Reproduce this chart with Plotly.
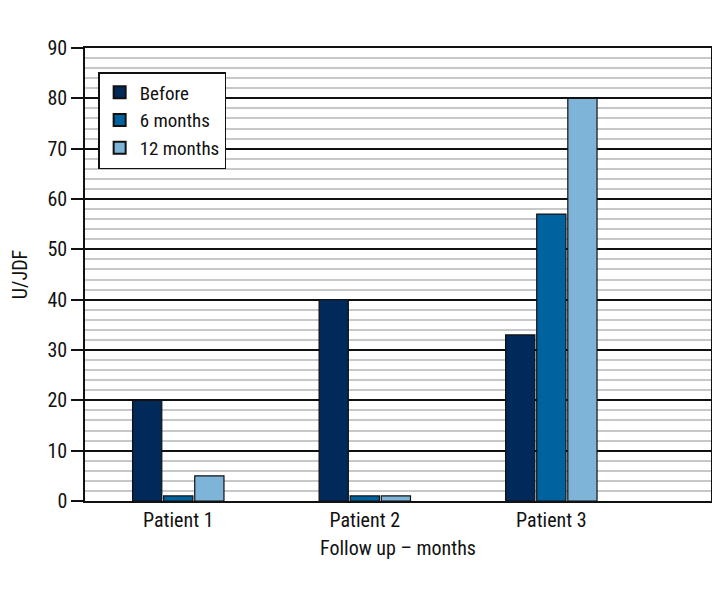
import plotly.graph_objects as go

categories = ["Patient 1", "Patient 2", "Patient 3"]
series_names = ["Before", "6 months", "12 months"]
before = [20, 40, 33]
six_months = [1, 1, 57]
twelve_months = [5, 1, 80]
colors = ["#012a5a", "#00629e", "#7db4d8"]
y_ticks = [0, 10, 20, 30, 40, 50, 60, 70, 80, 90]

FONT = "Liberation Sans Narrow, Roboto Condensed, Arial Narrow, Liberation Sans, sans-serif"

fig = go.Figure()
xpos = list(range(len(categories)))
for name, vals, col in zip(series_names, [before, six_months, twelve_months], colors):
    fig.add_trace(go.Bar(
        x=xpos, y=vals, name=name,
        marker=dict(color=col, line=dict(color="#111111", width=1.2)),
    ))

fig.update_layout(
    width=720, height=600,
    margin=dict(l=77, r=17, t=40, b=107, autoexpand=False),
    paper_bgcolor="white", plot_bgcolor="white",
    barmode="group", bargap=0.5, bargroupgap=0.06,
    font=dict(family=FONT, size=20, color="#111111"),
    showlegend=True,
    legend=dict(
        x=0.021, y=0.947, xanchor="left", yanchor="top",
        bordercolor="#111111", borderwidth=1.5, bgcolor="white",
        font=dict(family=FONT, size=19, color="#111111"),
        tracegroupgap=0, itemsizing="constant",
    ),
    xaxis=dict(
        range=[-0.5, 2.856], automargin=False,
        tickmode="array", tickvals=xpos, ticktext=categories,
        showgrid=False, zeroline=False,
        showline=True, linecolor="#111111", linewidth=1.5, mirror=True,
        ticks="", tickfont=dict(size=20),
        title=dict(text="Follow up – months", font=dict(size=20), standoff=10),
        fixedrange=True,
    ),
    yaxis=dict(
        range=[0, 90], automargin=False,
        tickmode="array", tickvals=y_ticks,
        showgrid=True, gridcolor="#111111", gridwidth=1.5,
        minor=dict(dtick=2, showgrid=True, gridcolor="#c8c8c8", gridwidth=1.5),
        zeroline=False,
        showline=True, linecolor="#111111", linewidth=1.5, mirror=True,
        ticks="outside", ticklen=12, tickcolor="#111111", tickwidth=1.5,
        tickfont=dict(size=20),
        title=dict(text="U/JDF", font=dict(size=20), standoff=15),
        fixedrange=True,
    ),
)

fig.write_html("out.html")
